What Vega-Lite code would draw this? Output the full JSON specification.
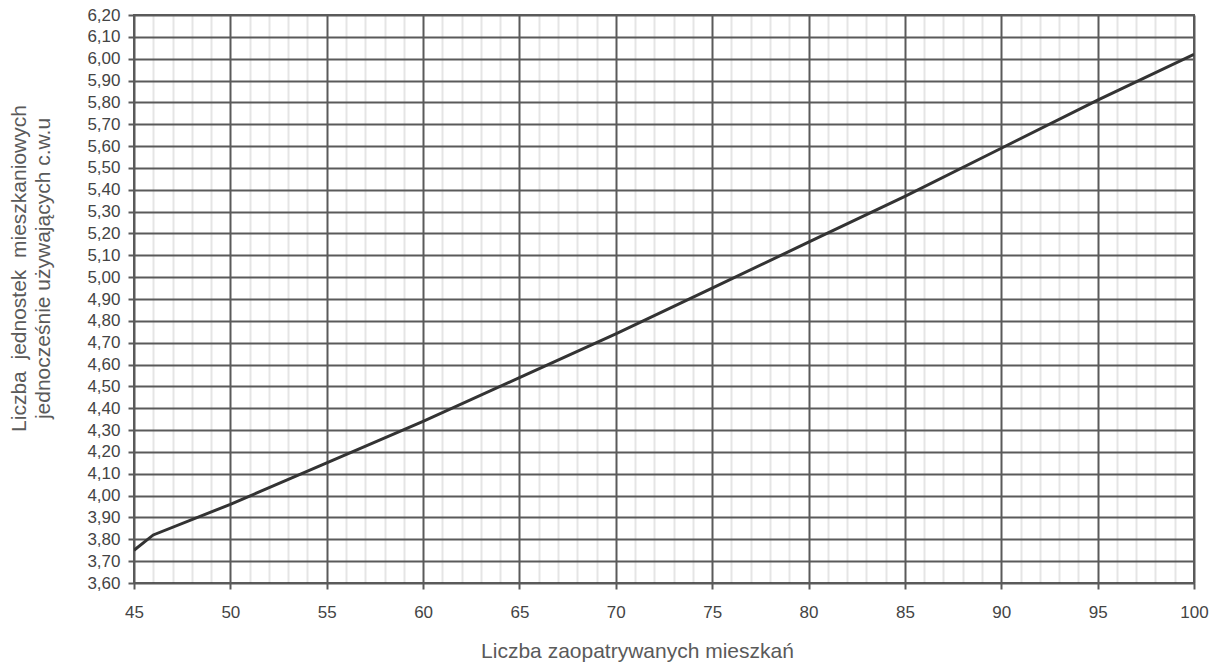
{
  "$schema": "https://vega.github.io/schema/vega-lite/v6.json",
  "width": 1060,
  "height": 568,
  "autosize": {"type": "none"},
  "padding": {"left": 134, "top": 15, "right": 21, "bottom": 83},
  "background": "#ffffff",
  "config": {
    "view": {"stroke": "#5a5a5a", "strokeWidth": 2},
    "axis": {
      "labelFont": "Liberation Sans",
      "labelFontSize": 17,
      "labelColor": "#444444",
      "titleFont": "Liberation Sans",
      "titleFontWeight": "normal",
      "titleFontSize": 21,
      "titleColor": "#5a5a5a",
      "domain": false
    }
  },
  "data": {
    "values": [
      {"mieszkania": 45, "jednostki": 3.75},
      {"mieszkania": 46, "jednostki": 3.82},
      {"mieszkania": 50, "jednostki": 3.96},
      {"mieszkania": 55, "jednostki": 4.15},
      {"mieszkania": 60, "jednostki": 4.34},
      {"mieszkania": 65, "jednostki": 4.54},
      {"mieszkania": 70, "jednostki": 4.74},
      {"mieszkania": 75, "jednostki": 4.95},
      {"mieszkania": 80, "jednostki": 5.16},
      {"mieszkania": 85, "jednostki": 5.37},
      {"mieszkania": 90, "jednostki": 5.59},
      {"mieszkania": 95, "jednostki": 5.81},
      {"mieszkania": 100, "jednostki": 6.02}
    ]
  },
  "mark": {"type": "line", "color": "#333333", "strokeWidth": 3, "clip": true},
  "encoding": {
    "x": {
      "field": "mieszkania",
      "type": "quantitative",
      "scale": {"domain": [45, 100], "nice": false, "zero": false},
      "axis": {
        "title": "Liczba zaopatrywanych mieszkań",
        "titleX": 503,
        "titleY": 68,
        "titleAlign": "center",
        "titleBaseline": "middle",
        "values": [45,46,47,48,49,50,51,52,53,54,55,56,57,58,59,60,61,62,63,64,65,66,67,68,69,70,71,72,73,74,75,76,77,78,79,80,81,82,83,84,85,86,87,88,89,90,91,92,93,94,95,96,97,98,99,100],
        "labelExpr": "datum.value % 5 === 0 ? datum.label : ''",
        "labelPadding": 15,
        "labelFlush": false,
        "labelOverlap": false,
        "grid": true,
        "gridColor": {"condition": {"test": "datum.value % 5 === 0", "value": "#5a5a5a"}, "value": "#000000"},
        "gridOpacity": {"condition": {"test": "datum.value % 5 === 0", "value": 1}, "value": 0.1},
        "gridWidth": 2,
        "tickColor": "#5a5a5a",
        "tickWidth": 2,
        "tickSize": 6,
        "tickOpacity": {"condition": {"test": "datum.value % 5 === 0", "value": 1}, "value": 0}
      }
    },
    "y": {
      "field": "jednostki",
      "type": "quantitative",
      "scale": {"domain": [3.6, 6.2], "nice": false, "zero": false},
      "axis": {
        "title": ["Liczba\u00a0 jednostek\u00a0 mieszkaniowych", "jednocześnie używających c.w.u"],
        "titleAngle": -90,
        "titleX": -109,
        "titleY": 253,
        "titleAlign": "center",
        "titleBaseline": "alphabetic",
        "titleLineHeight": 24,
        "values": [3.6,3.7,3.8,3.9,4.0,4.1,4.2,4.3,4.4,4.5,4.6,4.7,4.8,4.9,5.0,5.1,5.2,5.3,5.4,5.5,5.6,5.7,5.8,5.9,6.0,6.1,6.2],
        "labelExpr": "replace(format(datum.value, '.2f'), '.', ',')",
        "labelPadding": 8,
        "labelFlush": false,
        "labelOverlap": false,
        "grid": true,
        "gridColor": "#5a5a5a",
        "gridWidth": 2,
        "tickColor": "#5a5a5a",
        "tickWidth": 2,
        "tickSize": 6
      }
    }
  }
}
